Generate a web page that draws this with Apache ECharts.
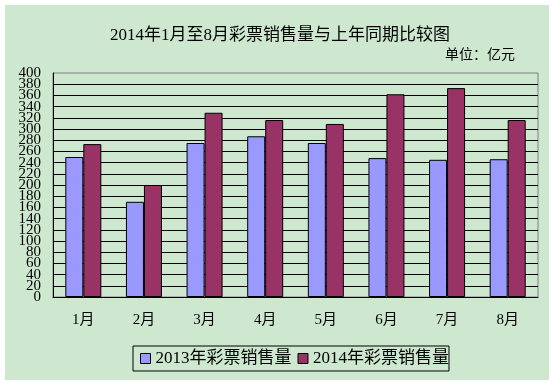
<!DOCTYPE html>
<html>
<head>
<meta charset="utf-8">
<script src="https://cdn.jsdelivr.net/npm/echarts@6/dist/echarts.min.js"></script>
<style>html,body{margin:0;padding:0;background:#fff;}#c{width:554px;height:384px;}</style>
</head>
<body>
<div id="c"></div>
<script>
const categories = ['1月','2月','3月','4月','5月','6月','7月','8月'];
const sales2013 = [250, 170, 275, 287, 275, 248, 245, 246];
const sales2014 = [273, 200, 329, 316, 309, 362, 373, 316];
const seriesNames = ['2013年彩票销售量','2014年彩票销售量'];
const titleText = '2014年1月至8月彩票销售量与上年同期比较图';
const unitText = '单位：亿元';
const yMin = 0, yMax = 400, yStep = 20;

const FONT = '"Liberation Serif", "Noto Sans CJK SC", serif';
const labelStyle = {fontFamily: FONT, fontSize: 15, color:'#000', margin: 12};
const chart = echarts.init(document.getElementById('c'), null, {renderer:'canvas'});
chart.setOption({
  backgroundColor: '#ffffff',
  animation: false,
  textStyle: {fontFamily: FONT, color: '#000'},
  graphic: [
    {type:'rect', z:-10, silent:true, shape:{x:5, y:5, width:544, height:375}, style:{fill:'#CDE8CF'}},
    {type:'text', left: 445, top: 48, style:{text: unitText, font: '14px ' + FONT, fill:'#000'}}
  ],
  title: {
    text: titleText,
    left: 105,
    top: 22,
    textStyle: {fontFamily: FONT, fontSize: 17, fontWeight: 'normal', color:'#000'}
  },
  legend: {
    data: seriesNames,
    left: 133,
    top: 346,
    orient: 'horizontal',
    borderColor: '#000',
    borderWidth: 1,
    padding: [4, 0, 4, 7],
    itemWidth: 10,
    itemHeight: 10,
    itemGap: 6,
    icon: 'rect',
    itemStyle: {borderColor:'#000', borderWidth:1},
    textStyle: {fontFamily: FONT, fontSize: 17, color:'#000'}
  },
  grid: {
    left: 53, right: 16, top: 73, bottom: 87,
    show: true, borderColor: '#808080', borderWidth: 1, backgroundColor: 'transparent'
  },
  xAxis: {
    type: 'category',
    data: categories,
    axisLine: {lineStyle:{color:'#000', width:1}},
    axisTick: {inside:true, length:5, lineStyle:{color:'#000'}},
    axisLabel: {fontFamily: FONT, fontSize: 15, color:'#000', margin: 16}
  },
  yAxis: [
    {
      type: 'value', position: 'left',
      min: yMin, max: yMax, interval: yStep,
      axisLine: {show:true, lineStyle:{color:'#000', width:1}},
      axisTick: {show:true, inside:true, length:4, lineStyle:{color:'#000'}},
      axisLabel: Object.assign({showMinLabel:false, showMaxLabel:false, hideOverlap:false}, labelStyle),
      splitLine: {show:true, showMaxLine:false, lineStyle:{color:'#000', width:1}}
    },
    {
      type: 'value', position: 'left', offset: 0,
      min: yMin, max: yMax, interval: yStep,
      axisLine: {show:false}, axisTick: {show:false}, splitLine: {show:false},
      axisLabel: Object.assign({hideOverlap:false,
        formatter: v => (v === yMin || v === yMax) ? String(v) : ''}, labelStyle)
    }
  ],
  series: [
    {name: seriesNames[0], type:'bar', data: sales2013, barWidth: 18, barGap: '0%',
     itemStyle:{color:'#9999FF', borderColor:'#000', borderWidth:1}},
    {name: seriesNames[1], type:'bar', data: sales2014, barWidth: 18, barGap: '0%',
     itemStyle:{color:'#993366', borderColor:'#000', borderWidth:1}}
  ]
});
</script>
</body>
</html>
